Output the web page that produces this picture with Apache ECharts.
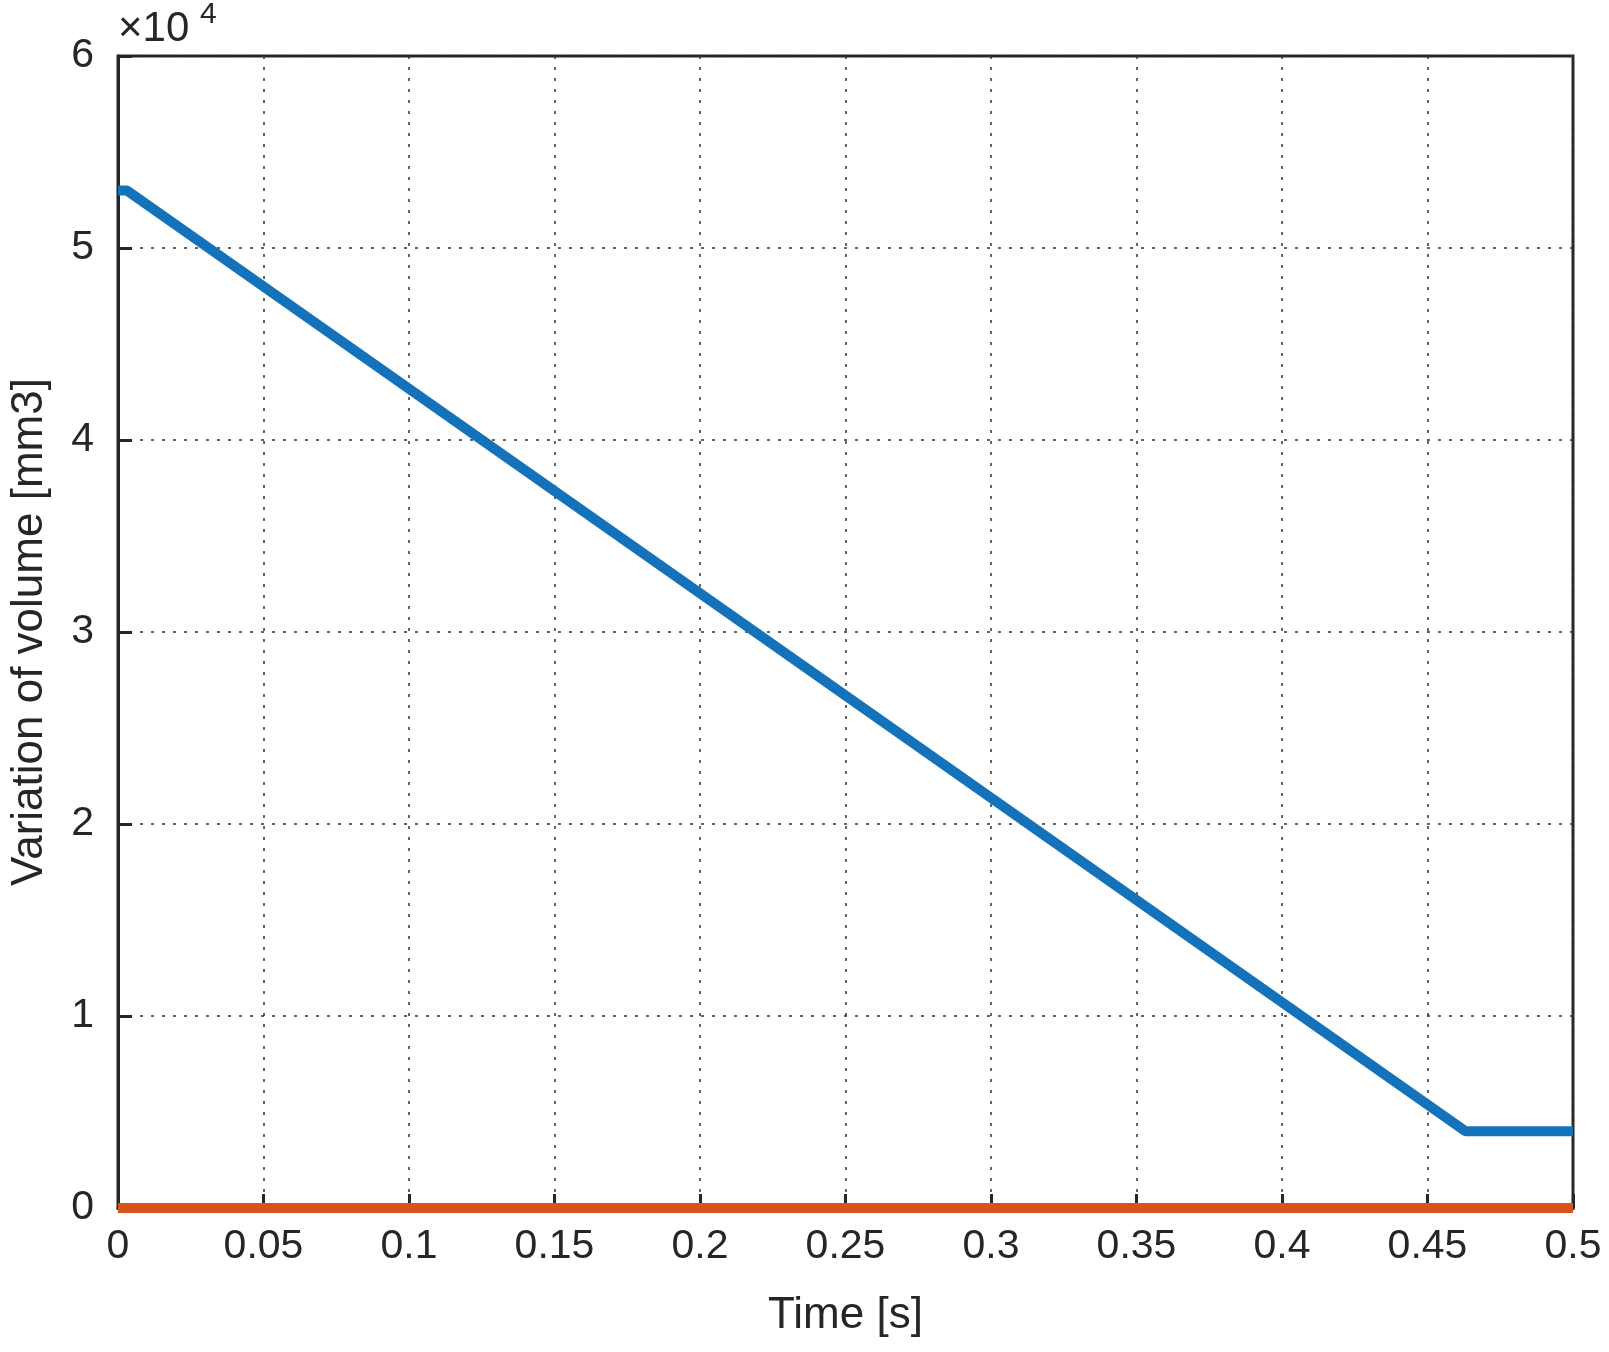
<!DOCTYPE html>
<html><head><meta charset="utf-8">
<script src="https://cdn.jsdelivr.net/npm/echarts@6/dist/echarts.min.js"></script>
<style>html,body{margin:0;background:#fff}#c{width:1609px;height:1352px}</style>
</head><body><div id="c"></div>
<script>
// 体积变化曲线
var timeBlue = [0, 0.003, 0.463, 0.5];
var volBlue = [53000, 53000, 4000, 4000];
var timeRed = [0, 0.5];
var volRed = [0, 0];
var yTicks = [0, 1, 2, 3, 4, 5, 6];

var pair = function(xs, ys){ return xs.map(function(x,i){ return [x, ys[i]]; }); };
var font = 'Liberation Sans';
var dotted = {show:true, lineStyle:{color:'#333', type:[3,8], width:1.5}};

var chart = echarts.init(document.getElementById('c'));
chart.setOption({
  animation:false,
  grid:{left:115, right:36, top:56, bottom:144, show:true, borderColor:'#262626', borderWidth:3},
  graphic:[{type:'text', left:118, top:8, style:{text:'×10', fontSize:42, fontFamily:font, fill:'#262626'}},
           {type:'text', left:200, top:0, style:{text:'4', fontSize:30, fontFamily:font, fill:'#262626'}}],
  xAxis:{type:'value', min:0, max:0.5, interval:0.05, name:'Time [s]', nameLocation:'middle', nameGap:86,
    nameTextStyle:{fontSize:44, color:'#262626', fontFamily:font},
    axisLine:{lineStyle:{color:'#262626', width:3}},
    axisTick:{inside:true, length:14, lineStyle:{color:'#262626', width:3}},
    axisLabel:{fontSize:41, color:'#262626', fontFamily:font, margin:18, formatter:function(v){return +v.toFixed(2)+'';}},
    splitLine:dotted},
  yAxis:{type:'value', min:0, max:60000, interval:10000, name:'Variation of volume [mm3]', nameLocation:'middle', nameGap:66,
    nameTextStyle:{fontSize:44, color:'#262626', fontFamily:font},
    axisLine:{lineStyle:{color:'#262626', width:3}},
    axisTick:{inside:true, length:14, lineStyle:{color:'#262626', width:3}},
    axisLabel:{fontSize:41, color:'#262626', fontFamily:font, margin:24, formatter:function(v){return yTicks[Math.round(v/10000)]+'';}},
    splitLine:dotted},
  series:[
    {type:'line', data:pair(timeBlue, volBlue), symbol:'none', lineStyle:{color:'#1372BA', width:10}},
    {type:'line', data:pair(timeRed, volRed), symbol:'none', lineStyle:{color:'#D9541C', width:10}, clip:false}
  ]
});
</script></body></html>
